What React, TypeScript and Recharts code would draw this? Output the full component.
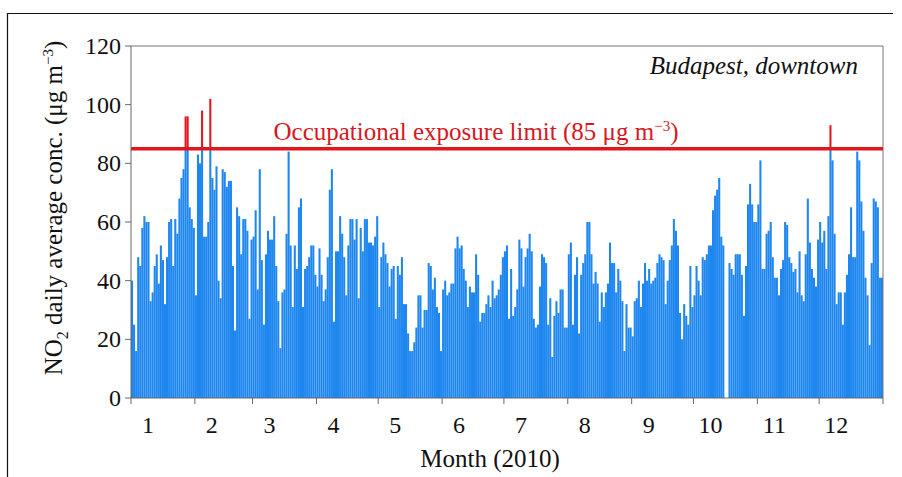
import { Bar, BarChart, ReferenceLine, XAxis, YAxis } from "recharts";

// NO2 daily averages (µg m-3), Budapest downtown, 2010 — one array per month
const jan = [40, 25, 16, 48, 45, 58, 62, 60, 60, 33, 36, 45, 49, 39, 52, 47, 32, 48, 60, 61, 45, 61, 56, 68, 75, 78, 96, 96, 65, 61, 58];
const feb = [35, 83, 80, 98, 55, 55, 60, 102, 75, 71, 79, 40, 34, 78, 77, 72, 74, 74, 45, 23, 65, 62, 49, 61, 61, 57, 27, 54];
const mar = [55, 64, 37, 78, 47, 25, 49, 57, 54, 54, 62, 45, 33, 17, 36, 37, 56, 84, 52, 31, 52, 44, 65, 68, 31, 44, 45, 48, 52, 52, 42];
const apr = [38, 51, 42, 33, 37, 48, 71, 78, 26, 50, 50, 62, 56, 48, 35, 52, 61, 61, 54, 61, 34, 58, 50, 61, 61, 53, 53, 52, 55, 62];
const may = [31, 48, 53, 49, 46, 38, 44, 45, 27, 45, 42, 48, 32, 32, 22, 16, 16, 19, 24, 35, 35, 24, 30, 30, 46, 45, 37, 41, 31, 29, 16];
const jun = [37, 40, 35, 36, 39, 39, 51, 55, 51, 52, 44, 40, 31, 38, 36, 36, 49, 42, 26, 29, 29, 32, 35, 31, 40, 34, 35, 37, 42, 48];
const jul = [50, 52, 27, 44, 28, 31, 37, 54, 51, 38, 48, 51, 56, 50, 27, 24, 25, 38, 49, 48, 46, 25, 34, 14, 28, 33, 29, 37, 37, 24, 24];
const aug = [49, 53, 25, 42, 48, 22, 42, 46, 49, 60, 60, 49, 39, 43, 39, 26, 36, 31, 36, 39, 53, 46, 46, 36, 44, 40, 33, 16, 32, 24, 24];
const sep = [21, 33, 34, 40, 31, 39, 46, 40, 44, 39, 40, 41, 46, 49, 48, 47, 32, 40, 47, 52, 61, 57, 52, 29, 20, 32, 28, 25, 45, 31];
const oct = [35, 45, 40, 35, 48, 47, 49, 52, 52, 64, 69, 71, 75, 55, 52, null, null, 46, 44, 42, 49, 49, 49, 42, 28, 45, 66, 73, 66, 60, 60];
const nov = [66, 81, 44, 44, 56, 57, 60, 48, 41, 41, 35, 44, 47, 60, 59, 48, 46, 43, 44, 36, 50, 35, 33, 49, 68, 53, 44, 41, 38, 54];
const dec = [60, 53, 57, 44, 62, 93, 81, 56, 32, 36, 36, 25, 36, 42, 49, 65, 48, 48, 84, 81, 67, 57, 41, 35, 18, 46, 68, 67, 65, 41, 41];

const months = [jan, feb, mar, apr, may, jun, jul, aug, sep, oct, nov, dec];
const monthLabels = ["1", "2", "3", "4", "5", "6", "7", "8", "9", "10", "11", "12"];
const yTicks = [0, 20, 40, 60, 80, 100, 120];
const LIMIT = 85;

const serif = "'Liberation Serif', 'Times New Roman', serif";
const BLUE = "#1d86ef";
const RED = "#e2161d";

const values: (number | null)[] = months.flat();
const monthStarts: number[] = [0];
months.forEach((m) => monthStarts.push(monthStarts[monthStarts.length - 1] + m.length));

const rows = values.map((v, i) => ({
  pos: i + 0.5,
  base: v == null ? null : Math.min(v, LIMIT),
  over: v != null && v > LIMIT ? v - LIMIT : null,
}));

function MonthTick(props: any) {
  const { x, y, payload } = props;
  const idx = monthStarts.indexOf(payload.value);
  if (idx < 0 || idx >= monthLabels.length) return null;
  return (
    <text x={x + 17} y={y + 27} textAnchor="middle" fill="#111" style={{ fontFamily: serif, fontSize: 24 }}>
      {monthLabels[idx]}
    </text>
  );
}

function ValueTick(props: any) {
  const { x, y, payload } = props;
  return (
    <text x={x} y={y + 8} textAnchor="end" fill="#111" style={{ fontFamily: serif, fontSize: 24 }}>
      {payload.value}
    </text>
  );
}

export default function App() {
  return (
    <div style={{ position: "absolute", left: 0, top: 0, width: 902, height: 477, background: "#fff" }}>
      <BarChart width={902} height={477} data={rows} margin={{ top: 46, right: 19, bottom: 49, left: 0 }}>
        <XAxis
          type="number"
          dataKey="pos"
          domain={[0, 365]}
          ticks={monthStarts}
          interval={0}
          height={30}
          tickSize={6}
          stroke="#666"
          tick={<MonthTick />}
        />
        <YAxis
          domain={[0, 120]}
          ticks={yTicks}
          interval={0}
          width={131}
          tickSize={6}
          tickMargin={4}
          stroke="#666"
          tick={<ValueTick />}
        />
        <ReferenceLine y={120} stroke="#777" strokeWidth={1} />
        <ReferenceLine x={365} stroke="#777" strokeWidth={1} />
        <Bar dataKey="base" stackId="a" fill={BLUE} barSize={2.06} isAnimationActive={false} />
        {/* part of a day above the limit, in red */}
        <Bar dataKey="over" stackId="a" fill={RED} barSize={2.06} isAnimationActive={false} />
        <ReferenceLine y={LIMIT} stroke={RED} strokeWidth={3.5} />
      </BarChart>
      <svg
        width={902}
        height={477}
        style={{ position: "absolute", left: 0, top: 0, pointerEvents: "none", fontFamily: serif }}
      >
        <path d="M7.5 477 V13.5 H893" fill="none" stroke="#111" strokeWidth={1.2} />
        <text transform="rotate(-90)" x={-208} y={62} textAnchor="middle" fontSize={25} fill="#111">
          NO<tspan dy={6} fontSize={16}>2</tspan>
          <tspan dy={-6}> daily average conc. (μg m</tspan>
          <tspan dy={-9} fontSize={15}>−3</tspan>
          <tspan dy={9}>)</tspan>
        </text>
        <text x={490} y={467} textAnchor="middle" fontSize={25} fill="#111">
          Month (2010)
        </text>
        <text x={476} y={140} textAnchor="middle" fontSize={25} fill="#d8171e">
          Occupational exposure limit (85 μg m<tspan dy={-9} fontSize={15}>−3</tspan>
          <tspan dy={9}>)</tspan>
        </text>
        <text x={858} y={74} textAnchor="end" fontSize={25} fontStyle="italic" fill="#111">
          Budapest, downtown
        </text>
      </svg>
    </div>
  );
}
